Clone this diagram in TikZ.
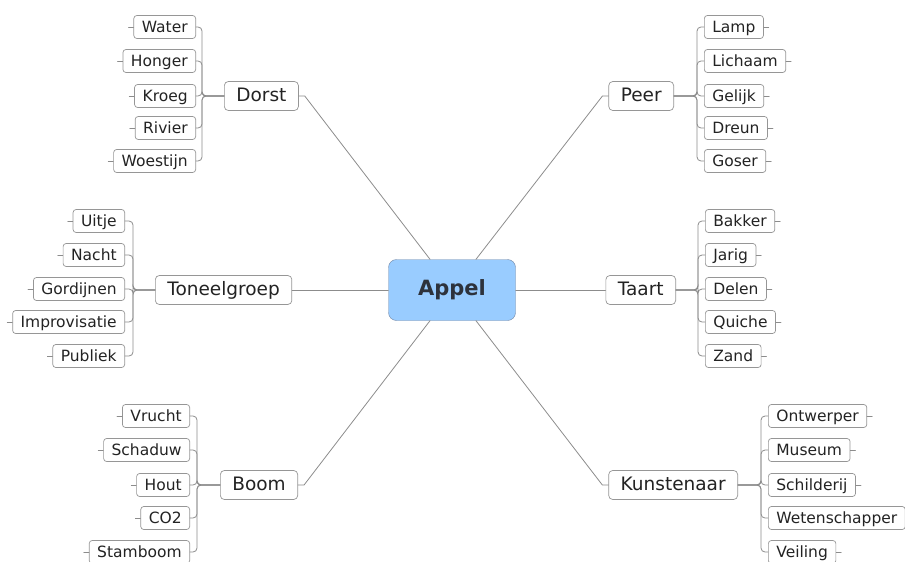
\documentclass[tikz,border=0pt]{standalone}
\usepackage{fontspec}
\setmainfont{DejaVu Sans}
\definecolor{linegray}{RGB}{140,140,140}
\definecolor{boxgray}{RGB}{150,150,150}
\definecolor{rootblue}{RGB}{153,204,255}
\definecolor{rootline}{RGB}{115,135,165}
\definecolor{txt}{RGB}{35,35,35}
\tikzset{
  link/.style={draw=linegray, line width=0.8pt},
  leaf/.style={draw=boxgray, line width=0.7pt, fill=white, rounded corners=3pt, inner xsep=8pt, inner ysep=0pt,
    minimum height=23pt, text height=12pt, text depth=2pt, text=txt, font=\fontsize{15.5}{17}\selectfont},
  topic/.style={draw=boxgray, line width=0.7pt, fill=white, rounded corners=4pt, inner xsep=12pt, inner ysep=0pt,
    minimum height=29pt, text height=14pt, text depth=2.5pt, text=txt, font=\fontsize{18.5}{21}\selectfont},
  root/.style={draw=rootline, fill=rootblue, rounded corners=8pt, minimum width=127pt,
    minimum height=61pt, text={rgb,255:red,45;green,50;blue,60}, font=\fontsize{21}{24}\selectfont\bfseries}
}

\begin{document}
\begin{tikzpicture}[x=1pt, y=-1pt, line cap=round]
\useasboundingbox (0,0) rectangle (905,562);
% 中心
\node[root] (appel) at (452,290) {Appel};
% 主题
\node[topic, anchor=west] (dorst) at (224,96) {Dorst};
\node[topic, anchor=east] (peer) at (674,96) {Peer};
\node[topic, anchor=west] (toneel) at (155,290) {Toneelgroep};
\node[topic, anchor=east] (taart) at (676,290) {Taart};
\node[topic, anchor=west] (boom) at (220,485) {Boom};
\node[topic, anchor=east] (kunst) at (738,485) {Kunstenaar};
% 中心到主题
\draw[link] (dorst.east) -- ++(6,0) -- ([xshift=-22pt]appel.north);
\draw[link] (peer.west) -- ++(-6,0) -- ([xshift=24pt]appel.north);
\draw[link] (toneel.east) -- (appel.west);
\draw[link] (taart.west) -- (appel.east);
\draw[link] (boom.east) -- ++(6,0) -- ([xshift=-22pt]appel.south);
\draw[link] (kunst.west) -- ++(-6,0) -- ([xshift=24pt]appel.south);
% Dorst
\foreach \t/\y [count=\i] in {Water/27, Honger/61, Kroeg/96, Rivier/128, Woestijn/161} {
  \node[leaf, anchor=east] (dorst\i) at (196,\y) {\t};
  \draw[link, rounded corners=4pt] (dorst.west) -- ++(-22,0) |- (dorst\i.east);
  \draw[link] (dorst\i.west) -- ++(-5,0);
}
% Peer
\foreach \t/\y [count=\i] in {Lamp/27, Lichaam/61, Gelijk/96, Dreun/128, Goser/161} {
  \node[leaf, anchor=west] (peer\i) at (704,\y) {\t};
  \draw[link, rounded corners=4pt] (peer.east) -- ++(23,0) |- (peer\i.west);
  \draw[link] (peer\i.east) -- ++(5,0);
}
% Toneelgroep
\foreach \t/\y [count=\i] in {Uitje/221, Nacht/255, Gordijnen/289, Improvisatie/322, Publiek/356} {
  \node[leaf, anchor=east] (toneel\i) at (125,\y) {\t};
  \draw[link, rounded corners=4pt] (toneel.west) -- ++(-22,0) |- (toneel\i.east);
  \draw[link] (toneel\i.west) -- ++(-5,0);
}
% Taart
\foreach \t/\y [count=\i] in {Bakker/221, Jarig/255, Delen/289, Quiche/322, Zand/356} {
  \node[leaf, anchor=west] (taart\i) at (705,\y) {\t};
  \draw[link, rounded corners=4pt] (taart.east) -- ++(22,0) |- (taart\i.west);
  \draw[link] (taart\i.east) -- ++(5,0);
}
% Boom
\foreach \t/\y [count=\i] in {Vrucht/416, Schaduw/450, Hout/485, CO2/518, Stamboom/552} {
  \node[leaf, anchor=east] (boom\i) at (190,\y) {\t};
  \draw[link, rounded corners=4pt] (boom.west) -- ++(-23,0) |- (boom\i.east);
  \draw[link] (boom\i.west) -- ++(-5,0);
}
% Kunstenaar
\foreach \t/\y [count=\i] in {Ontwerper/416, Museum/450, Schilderij/485, Wetenschapper/518, Veiling/552} {
  \node[leaf, anchor=west] (kunst\i) at (768,\y) {\t};
  \draw[link, rounded corners=4pt] (kunst.east) -- ++(23,0) |- (kunst\i.west);
  \draw[link] (kunst\i.east) -- ++(5,0);
}
\end{tikzpicture}
\end{document}
